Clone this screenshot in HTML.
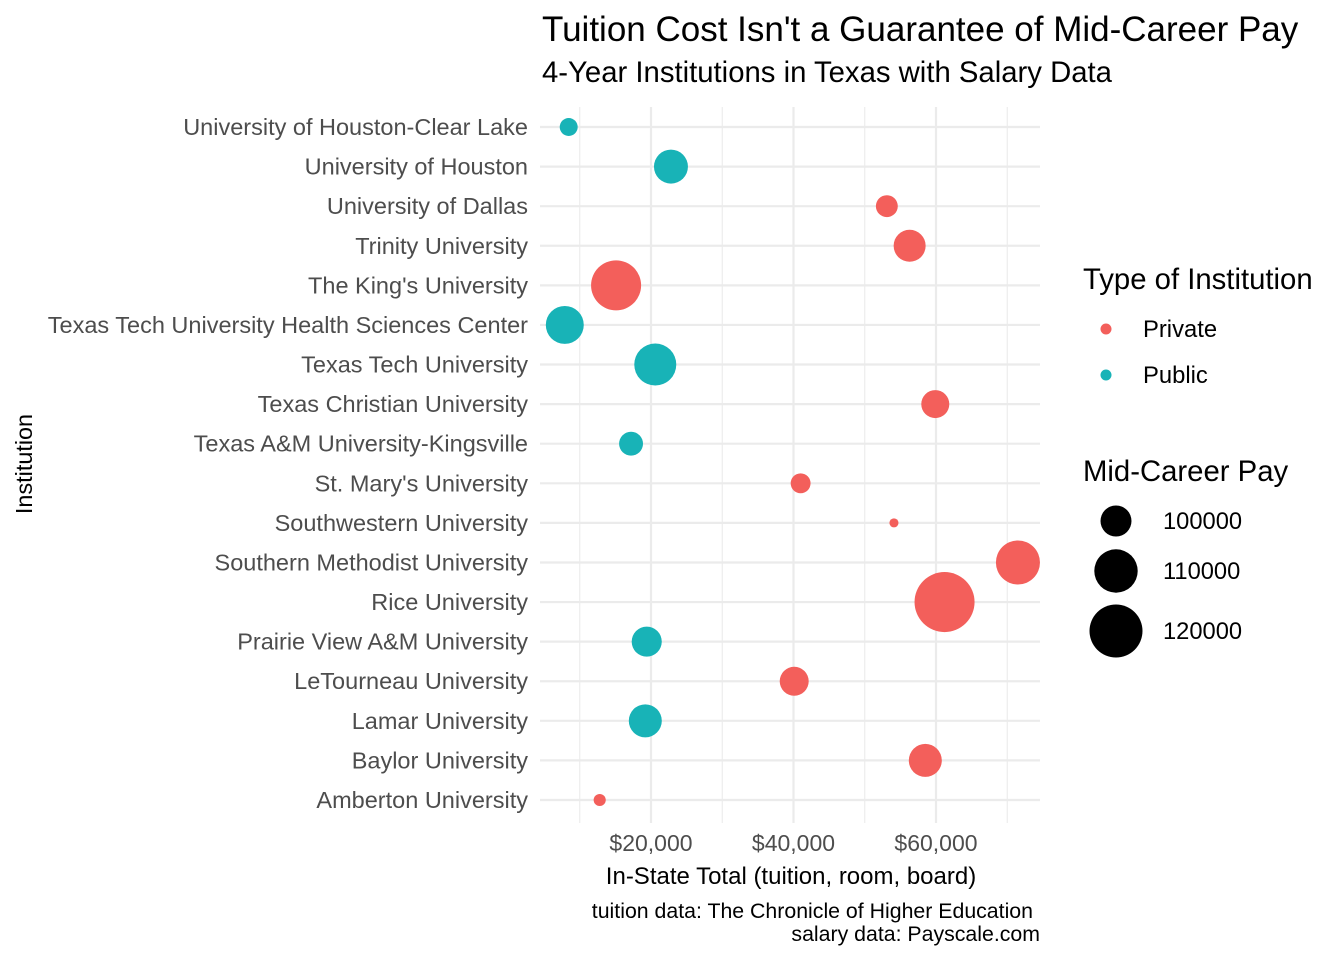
<!DOCTYPE html>
<html><head><meta charset="utf-8"><style>
body{margin:0;background:#fff;}
svg text{font-family:"Liberation Sans",Arial,sans-serif;}
</style></head><body>
<svg id="chart" width="1344" height="960" xmlns="http://www.w3.org/2000/svg">
<rect width="1344" height="960" fill="#fff"/>
<text x="542" y="41" font-size="35" fill="#000">Tuition Cost Isn't a Guarantee of Mid-Career Pay</text>
<text x="542" y="82" font-size="29.3" fill="#000">4-Year Institutions in Texas with Salary Data</text>
<g id="grid"></g>
<g id="ylabels"></g>
<g id="xlabels"></g>
<g id="points"></g>
<text x="791" y="884" font-size="24" text-anchor="middle" fill="#000">In-State Total (tuition, room, board)</text>
<text transform="translate(32,464) rotate(-90)" font-size="23.4" text-anchor="middle" fill="#000">Institution</text>
<text x="1033" y="918" font-size="21.3" text-anchor="end" fill="#000">tuition data: The Chronicle of Higher Education</text>
<text x="1040" y="941" font-size="21.3" text-anchor="end" fill="#000">salary data: Payscale.com</text>
<g>
<text x="1083" y="289" font-size="29.3" fill="#000">Type of Institution</text>
<circle cx="1106" cy="329" r="5.5" fill="#F35F5B"/>
<text x="1143" y="337" font-size="23.8" fill="#000">Private</text>
<circle cx="1106" cy="375" r="5.5" fill="#18B3B7"/>
<text x="1143" y="383" font-size="23.8" fill="#000">Public</text>
<text x="1083" y="481" font-size="29.3" fill="#000">Mid-Career Pay</text>
</g>
<g id="sizelegend"></g>
</svg>
<script>
const institutions=["University of Houston-Clear Lake","University of Houston","University of Dallas","Trinity University","The King's University","Texas Tech University Health Sciences Center","Texas Tech University","Texas Christian University","Texas A&M University-Kingsville","St. Mary's University","Southwestern University","Southern Methodist University","Rice University","Prairie View A&M University","LeTourneau University","Lamar University","Baylor University","Amberton University"];
const tuition=[8450,22800,53100,56300,15100,7900,20600,59900,17200,41000,54100,71500,61200,19400,40100,19200,58500,12800];
const midPay=[93100,102100,94800,100700,116700,105200,108700,98100,95800,93900,90500,110600,128600,99400,98700,101400,101400,91200];
const instType=["Public","Public","Private","Private","Private","Public","Public","Private","Public","Private","Private","Private","Private","Public","Private","Public","Private","Private"];
const xTicks=[20000,40000,60000];
const xTickLabels=["$20,000","$40,000","$60,000"];
const xMinor=[10000,30000,50000,70000];
const sizeBreaks=[100000,110000,120000];

const NS="http://www.w3.org/2000/svg";
const X0=540,X1=1040,PTOP=107,PBOT=823;
const xs=v=>651+(v-20000)*(142.5/20000);
const ys=i=>127+i*(673/17);
const rs=p=>Math.sqrt(Math.max(9,240+0.0231*(p-100000)));
const colors={Private:"#F35F5B",Public:"#18B3B7"};
function mk(tag,attrs,parent){const e=document.createElementNS(NS,tag);for(const k in attrs)e.setAttribute(k,attrs[k]);parent.appendChild(e);return e;}
const grid=document.getElementById('grid');
xMinor.forEach(v=>{const l=mk('line',{x1:xs(v),x2:xs(v),y1:PTOP,y2:PBOT,stroke:'#ebebeb','stroke-width':1.1},grid);

});
xTicks.forEach(v=>{const l=mk('line',{x1:xs(v),x2:xs(v),y1:PTOP,y2:PBOT,stroke:'#ebebeb','stroke-width':2.2},grid);

});
institutions.forEach((n,i)=>{const l=mk('line',{x1:X0,x2:X1,y1:ys(i),y2:ys(i),stroke:'#ebebeb','stroke-width':2.2},grid);


const t=mk('text',{x:528,y:ys(i)+8,'font-size':23.5,'text-anchor':'end',fill:'#4d4d4d'},document.getElementById('ylabels'));
t.textContent=n;

});
xTicks.forEach((v,i)=>{const t=mk('text',{x:xs(v),y:851,'font-size':23,'text-anchor':'middle',fill:'#4d4d4d'},document.getElementById('xlabels'));
t.textContent=xTickLabels[i];

});
institutions.forEach((n,i)=>{const c=mk('circle',{cx:xs(tuition[i]),cy:ys(i),r:rs(midPay[i]),fill:colors[instType[i]]},document.getElementById('points'));

});
const sy=[521,571,631];
sizeBreaks.forEach((b,i)=>{const g=document.getElementById('sizelegend');
const c=mk('circle',{cx:1116,cy:sy[i],r:rs(b),fill:'#000'},g);


const t=mk('text',{x:1163,y:sy[i]+8,'font-size':23.7,fill:'#000'},g);
t.textContent=String(b);

});
</script>
</body></html>
